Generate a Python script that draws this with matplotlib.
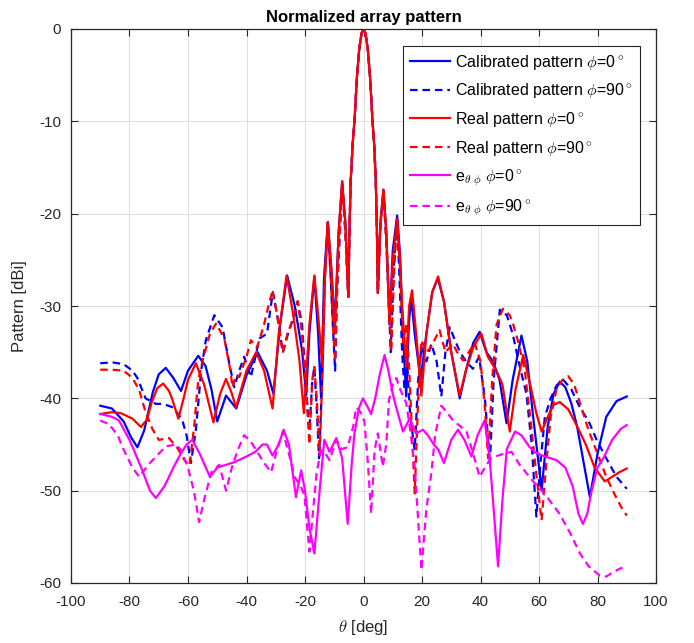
import matplotlib
matplotlib.use('Agg')
import matplotlib.pyplot as plt
import numpy as np

plt.rcParams['font.family'] = ['Liberation Sans', 'DejaVu Sans']
plt.rcParams['mathtext.fontset'] = 'cm'
plt.rcParams['axes.unicode_minus'] = False

# Lobulo principal (comum as quatro curvas de padrao)
main_theta = [-4.8, -4.4, -3.7, -3, -2.2, -1.5, -0.7, 0, 0.7, 1.5, 2.2, 3, 3.7, 4.2, 4.6]
main_db = [-22, -16.5, -12.5, -9.5, -5, -2.3, -0.5, 0, -0.5, -2.3, -5, -9.5, -12.8, -16.5, -22]

# Calibrated pattern phi=0
cal0_left_theta = [-90, -86, -82, -79.5, -77.3, -75, -72, -70, -67.6, -65, -62.4, -60, -56.5, -54, -52, -50,
                   -47, -43.5, -40, -36.2, -33, -30.8, -28.5, -26.1, -23.5, -21, -19.6, -18.5, -16.8, -15.5,
                   -14.5, -13.5, -12.2, -11, -9.8, -8.5, -7.3, -6.2, -5.2]
cal0_left_db = [-40.8, -41.1, -42.5, -44.2, -45.3, -43.5, -39.3, -37.4, -36.7, -37.8, -39.2, -37, -35.4, -36.5, -39, -42.5,
                -39.7, -41.1, -37.5, -35, -37, -39.5, -32, -26.7, -30, -34.8, -39.7, -33, -26.8, -33,
                -40, -27, -20.9, -26, -32, -22, -16.5, -21, -29]
cal0_right_theta = [4.9, 5.8, 6.8, 7.8, 8.9, 10, 11.5, 12.5, 13.5, 14.6, 15.5, 16.3, 17.5, 19.5, 21.5, 23.5,
                    25.4, 27.5, 30, 32.9, 35, 37.5, 39.7, 42, 44.3, 46.5, 48.9, 51, 54, 56, 58, 60.9, 63,
                    65, 67.1, 69, 71, 73, 75, 77.4, 80, 83, 86.5, 90]
cal0_right_db = [-28.6, -21, -17.4, -22, -32, -24, -20.2, -24.5, -33, -39.8, -32, -29, -33, -38, -33, -28.5,
                 -27, -29.5, -35, -40, -37, -34, -32.8, -35, -36, -38, -42.7, -38, -33.2, -36, -42, -49.9, -43,
                 -39.5, -38.2, -38.8, -40.5, -43, -46.5, -50.7, -46, -42, -40.3, -39.8]

# Calibrated pattern phi=90
cal90_left_theta = [-90, -86, -82, -79, -77.3, -74.5, -71, -68.5, -65, -62, -60.5, -59, -57.3, -55.5, -53.9,
                    -51, -48.2, -45.9, -44.2, -42.5, -40.8, -38.5, -36.7, -35.5, -33, -31, -29.5, -27.6,
                    -25.8, -24.2, -22.5, -21, -19.6, -18.5, -17.5, -16.8, -16, -15.2, -14, -13.2, -12.2,
                    -11.2, -10.5, -9.7, -9, -7.3, -6.2, -5.2]
cal90_left_db = [-36.2, -36.1, -36.3, -37, -37.8, -40, -40.6, -40.6, -41, -42.3, -44, -47, -43.4, -37, -33.7,
                 -31, -32.3, -36.2, -38.8, -37, -35.5, -37.7, -35.1, -33.5, -33, -28.5, -31, -35,
                 -33, -31.5, -29.5, -32, -39, -43.5, -38, -36.6, -41, -46.5, -37, -27, -21,
                 -27, -32, -37, -28, -16.8, -22, -29]
cal90_right_theta = [4.9, 5.8, 6.8, 7.8, 9.3, 10.3, 11.5, 12.3, 13.2, 14, 15, 16, 17.5, 18.7, 19.8, 21.5,
                     23.2, 25, 26.6, 28, 29.5, 31, 33, 35, 37.4, 39.5, 41.5, 43.2, 44.5, 46.6, 49, 51,
                     53, 55.7, 57.5, 59.1, 60.5, 62, 64, 66, 68.3, 71, 74, 77, 79.7, 83, 86.5, 90]
cal90_right_db = [-28.6, -21, -17.6, -23, -35, -26, -20.4, -27, -35, -39, -37, -42, -45.6, -38, -34.4, -36,
                  -34.1, -36, -39.8, -35, -32.3, -33.5, -35, -36, -36.8, -35.5, -40, -47, -38, -30.4, -31, -33,
                  -36, -39.5, -45, -52.8, -47, -42, -40, -38.6, -38, -39, -41, -42.5, -44.5, -46.5, -48.5, -49.8]

# Real pattern phi=0
real0_left_theta = [-90, -86, -83, -79, -76.1, -74, -72.5, -70.5, -68.5, -66.5, -65.5, -63.3, -61.5, -60, -57.3,
                    -54.5, -51.3, -49, -47, -45, -43.6, -40, -36.7, -34, -31.1, -29, -26.3, -24, -21.9, -20.4,
                    -18.5, -16.8, -15.5, -14.2, -13.2, -12.2, -11, -9.8, -8.5, -7.3, -6.2, -5.2]
real0_left_db = [-41.7, -41.5, -41.6, -42.2, -43.1, -42.3, -40.5, -38.9, -38.4, -39.2, -40, -42.2, -40, -38, -36.2,
                 -38.5, -42.6, -39.5, -37.9, -39.5, -41, -37, -35, -37, -41.1, -33, -26.7, -31, -35.9, -41.6,
                 -32, -26.7, -31, -36, -27, -20.9, -26, -33, -22, -16.5, -21, -29]
real0_right_theta = [4.9, 5.8, 6.8, 7.8, 8.9, 10, 11.5, 12.3, 13.2, 14.6, 15.6, 16.6, 18, 19.8, 21.5, 23.5,
                     25.5, 27.5, 30, 32.9, 35, 37.5, 40.3, 42.5, 45.4, 47.5, 50, 52, 54.6, 57, 59, 60.9,
                     63, 65, 67.1, 70, 73, 76, 79, 82.5, 85, 87.5, 90]
real0_right_db = [-28.6, -21, -17.4, -22, -32, -25, -20.6, -24, -30, -36.5, -30, -28.3, -33, -39.7, -33, -28.5,
                  -26.8, -29.5, -35, -39.7, -37, -34.5, -33, -35.5, -37, -38.5, -43.6, -39, -35.3, -38.5, -41.5, -43.6,
                  -42, -40.7, -40.4, -41.2, -43, -45, -47.5, -49, -48.5, -48, -47.6]

# Real pattern phi=90
real90_left_theta = [-90, -86, -82, -79, -76.7, -74.5, -72.2, -70, -66.5, -63.6, -61, -59.5, -57.9, -56.5, -55,
                     -52.5, -50.4, -47.6, -45.5, -44.8, -43.5, -42.5, -40, -38.5, -36.5, -35.6, -34, -32.5,
                     -31.1, -29.5, -27.6, -26, -24.2, -22.5, -21, -19.6, -18.5, -17.5, -16.8, -16, -15,
                     -14, -13.2, -12.2, -11.2, -10.3, -9.7, -9, -7.3, -6.2, -5.2]
real90_left_db = [-36.9, -36.9, -37, -37.8, -39.1, -41.5, -43.3, -44.5, -44.3, -45.4, -46.8, -47.3, -43.1, -38, -35.9,
                  -33, -31.9, -33.5, -37, -38.8, -37.5, -37.7, -35.5, -33.7, -34.5, -33.7, -32, -30,
                  -28.3, -31, -35.1, -33, -31.5, -29.5, -33, -39.1, -45, -38, -36.6, -40, -46,
                  -37, -27, -21, -27, -33, -36, -28, -16.8, -22, -29]
real90_right_theta = [4.9, 5.8, 6.8, 7.8, 9.5, 10.5, 11.5, 12.5, 13.5, 14.5, 15.5, 16.5, 17.5, 18.7, 19.8, 21.5,
                      23, 26, 28, 30.6, 32, 34, 36, 38, 40, 41.5, 42.6, 44, 45.5, 47.7, 50, 51.1,
                      53, 55.1, 57, 59, 60.9, 62.5, 64, 66, 68, 70, 72, 74, 77, 80, 83, 86, 88.5, 90]
real90_right_db = [-28.6, -21, -17.6, -23, -34.8, -26, -20.6, -26, -34, -32, -36, -43, -50.3, -40, -33.7, -35,
                   -34.5, -32.6, -35, -34.1, -35, -35.9, -35, -34, -36, -41, -46.5, -38, -32, -30.3, -31, -31.9,
                   -34, -36.9, -42, -48, -53.2, -47, -42, -39, -38, -37.6, -38.5, -40.5, -43.5, -46, -48.5, -50.5, -52, -52.7]

# e_theta_phi, phi=0
mag0_theta = [-90, -86, -83.6, -80, -76, -73, -71, -68, -65, -63, -60.5, -58.5, -56, -52.5, -50, -47, -44, -40,
              -37, -34.5, -33, -31.1, -29, -27.3, -25.5, -23.1, -21.3, -20, -18.5, -16.8, -15, -13.4, -11.6,
              -9.3, -7.3, -5.4, -4, -3.1, -1.5, -0.2, 1.5, 2.6, 4, 5.5, 7.2, 8.5, 10, 11.2, 13.5, 15.8, 18,
              20.3, 22, 24, 25.5, 27.5, 30, 32.3, 34.5, 36.9, 39, 41.4, 43, 44.5, 46, 47.5, 49, 51.8, 54,
              56.8, 58.5, 60.3, 63, 66, 69, 71.5, 73.5, 75, 76.5, 78, 80, 82, 85, 88, 90]
mag0_db = [-41.7, -42, -42.4, -44.5, -47.5, -50, -50.8, -49.5, -47.5, -46.3, -45, -44.5, -46, -48.5, -47.5, -47.2, -46.9, -46.3,
           -45.8, -45, -45, -46.2, -45, -43.4, -45, -50.7, -47.8, -50, -54, -56.8, -50, -44.5, -45.8,
           -44.3, -46.5, -53.6, -47, -43.8, -41, -40, -41, -41.7, -40, -37.5, -35.3, -37, -39.5, -41, -43.6, -42.2, -43.8,
           -43.4, -44, -45, -45.5, -47, -44.5, -43.4, -44.5, -46.3, -44, -42.4, -46, -52, -58.2, -51, -45.5, -43.6, -44,
           -45.3, -45.8, -46.1, -46.4, -46.7, -47.5, -49.5, -52.5, -53.6, -52.5, -50, -47.5, -46.5, -44.5, -43.3, -42.9]

# e_theta_phi, phi=90
mag90_theta = [-90, -87, -84, -82.4, -79, -76.7, -73, -70, -67.6, -64, -62.4, -60.1, -58, -56.2, -54.5, -52,
               -49.3, -47, -45, -43, -40.8, -38.5, -36.7, -34, -31.6, -29.5, -27.6, -25.5, -23.6, -21.5,
               -20.2, -18.5, -17.2, -16, -14.5, -13, -11.6, -9.3, -7.5, -5.4, -3.5, -2.5, -1, 0.3, 1.5,
               2.6, 3.8, 4.9, 6.6, 7.8, 8.7, 10, 11.2, 12.5, 14.6, 16, 17.5, 19.8, 21.5, 23.2, 24.5, 26.6,
               28.5, 30.6, 33, 35.2, 37.5, 39.7, 41.5, 43.5, 46, 48, 50.6, 53.4, 55.7, 58, 60.3, 63, 67,
               70.5, 74, 77, 80.8, 83, 85.5, 88, 90]
mag90_db = [-42.4, -42.8, -44, -45.3, -47.5, -48.5, -47, -46, -45.2, -45, -45.6, -47.4, -50, -53.4, -51, -48,
            -47.2, -50, -47.5, -45.6, -44, -44.7, -45.6, -47, -48, -45.5, -43.6, -46, -48.5, -49.5,
            -50.5, -56.6, -52, -48, -45.6, -46, -46.7, -44.5, -45.5, -45.3, -43, -41, -41.5, -42.5, -47,
            -52.5, -45.6, -43.8, -47.4, -44.9, -40.2, -38.5, -37.8, -39, -40.5, -43.5, -47.4, -58.6, -52, -48.1, -44, -40.8,
            -41.5, -42.4, -43, -43.6, -46, -48.5, -47.5, -46.5, -46.2, -46, -45.8, -47.2, -48.1, -49, -49.8, -50.8, -52.5,
            -54.5, -56.8, -58.2, -59.2, -59.3, -58.8, -58.4, -58.2]


def full_pattern(left_theta, left_db, right_theta, right_db):
  # Junta os lobulos laterais com o lobulo principal
  theta = list(left_theta) + main_theta + list(right_theta)
  db = list(left_db) + main_db + list(right_db)
  return theta, db


blue = '#0000ff'
red = '#ff0000'
magenta = '#ff00ff'
dash = (0, (3.4, 2.2))
lw = 1.6

fig = plt.figure(figsize=(6.94, 6.43), dpi=100)
ax = fig.add_axes([71 / 694, 1 - 583 / 643, 585 / 694, 554 / 643])

t, p = full_pattern(cal0_left_theta, cal0_left_db, cal0_right_theta, cal0_right_db)
ax.plot(t, p, color=blue, lw=lw, label=r'Calibrated pattern $\phi$=0$^\circ$')
t, p = full_pattern(cal90_left_theta, cal90_left_db, cal90_right_theta, cal90_right_db)
ax.plot(t, p, color=blue, lw=lw, linestyle=dash, label=r'Calibrated pattern $\phi$=90$^\circ$')
t, p = full_pattern(real0_left_theta, real0_left_db, real0_right_theta, real0_right_db)
ax.plot(t, p, color=red, lw=lw, label=r'Real pattern $\phi$=0$^\circ$')
t, p = full_pattern(real90_left_theta, real90_left_db, real90_right_theta, real90_right_db)
ax.plot(t, p, color=red, lw=lw, linestyle=dash, label=r'Real pattern $\phi$=90$^\circ$')
ax.plot(mag0_theta, mag0_db, color=magenta, lw=lw, label=r'e$_{\theta\ \phi}$ $\phi$=0$^\circ$')
ax.plot(mag90_theta, mag90_db, color=magenta, lw=lw, linestyle=dash, label=r'e$_{\theta\ \phi}$ $\phi$=90$^\circ$')

# Eixos no estilo MATLAB
ax.set_xlim(-100, 100)
ax.set_ylim(-60, 0)
ax.set_xticks(np.arange(-100, 101, 20))
ax.set_yticks(np.arange(-60, 1, 10))
ax.grid(True, color='#e0e0e0', lw=0.8)
ax.set_axisbelow(True)
ax.tick_params(direction='in', top=True, right=True, labelsize=11, colors='#262626', length=5)
ax.tick_params(axis='x', pad=9)
ax.tick_params(axis='y', pad=7)
for s in ax.spines.values():
  s.set_color('#262626')
  s.set_linewidth(0.9)

ax.set_xlabel(r'$\theta$ [deg]', fontsize=12, color='#262626', labelpad=6)
ax.set_ylabel('Pattern [dBi]', fontsize=12, color='#262626', labelpad=9)
ax.set_title('Normalized array pattern', fontsize=12, fontweight='bold', pad=5)

leg = ax.legend(loc='upper right', bbox_to_anchor=(0.973, 0.97), fontsize=11.5, handlelength=2.5,
                labelspacing=0.6, fancybox=False, framealpha=1, borderaxespad=0, handletextpad=0.3,
                borderpad=0.45)
leg.get_frame().set_edgecolor('#262626')
leg.get_frame().set_linewidth(0.8)

fig.savefig('out.png', dpi=100)
